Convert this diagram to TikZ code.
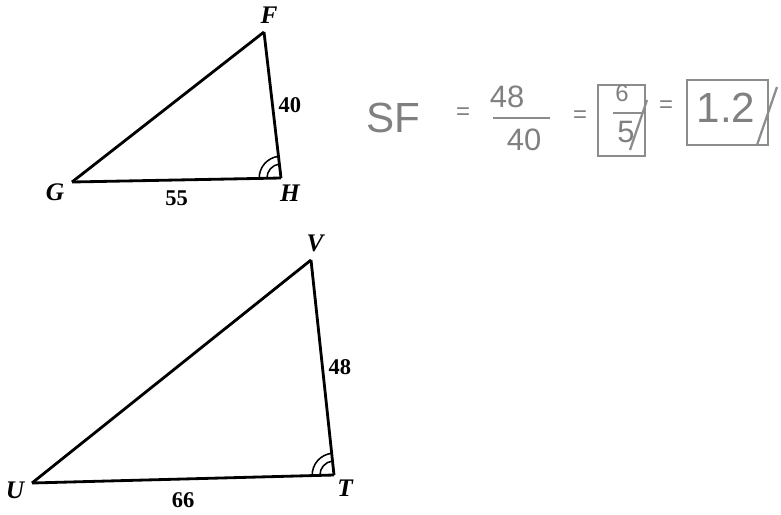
\documentclass[tikz,border=0pt]{standalone}
\usepackage{fontspec}
\setmainfont{Liberation Serif}
\newfontfamily\handfont{Liberation Sans}
\usetikzlibrary{angles,positioning}

\begin{document}
\begin{tikzpicture}[x=0.025cm,y=0.025cm,
	vlabel/.style={font=\fontsize{18}{18}\selectfont\bfseries\itshape},
	slabel/.style={font=\fontsize{16}{16}\selectfont\bfseries},
	edge/.style={line width=2pt,line join=miter},
	anglemark/.style={draw,line width=1.1pt},
	hand/.style={text=black!50,font=\handfont\fontsize{30}{30}\selectfont},
	handsmall/.style={text=black!50,font=\handfont\fontsize{22}{22}\selectfont},
	handtiny/.style={text=black!50,font=\handfont\fontsize{17}{17}\selectfont},
	handline/.style={draw=black!45,line width=1pt}]
	
	\useasboundingbox (0,0) rectangle (781,-514);
	
	% small triangle
	\coordinate (F) at (264,-32);
	\coordinate (G) at (72,-182);
	\coordinate (H) at (281,-178);
	\node[vlabel] (labF) at (269,-15) {F};
	\node[vlabel] (labG) at (55,-192) {G};
	\node[vlabel] (labH) at (290,-193) {H};
	
	\draw[edge] (G)-- (F);
	\draw[edge] (F)-- node[slabel,right]{40} (H);
	\draw[edge] (G)-- node[slabel,below=3pt]{55} (H);
	\pic[anglemark,angle radius=10pt] {angle=F--H--G};
	\pic[anglemark,angle radius=15.5pt] {angle=F--H--G};
	
	% large triangle
	\coordinate (V) at (311,-260);
	\coordinate (U) at (32,-483);
	\coordinate (T) at (334,-475);
	\node[vlabel] (labV) at (315,-243) {V};
	\node[vlabel] (labU) at (15,-490) {U};
	\node[vlabel] (labT) at (345,-488) {T};
	
	\draw[edge] (U)-- (V);
	\draw[edge] (V)-- node[slabel,right]{48} (T);
	\draw[edge] (U)-- node[slabel,below=5pt]{66} (T);
	\pic[anglemark,angle radius=10pt] {angle=V--T--U};
	\pic[anglemark,angle radius=15.5pt] {angle=V--T--U};
	
	% scale factor
	\node[hand] (sf) at (393,-118) {SF};
	\node[handtiny] (eq1) at (463,-114) {=};
	\node[handsmall] (num) at (507,-97) {48};
	\node[handsmall] (den) at (524,-140) {40};
	\draw[handline] (493,-118) -- (550,-118);
	\node[handtiny] (eq2) at (580,-117) {=};
	
	\draw[handline] (598,-85) rectangle (645,-156);
	\node[handtiny] (six) at (622,-93) {6};
	\draw[handline] (613,-113) -- (642,-113);
	\node[handsmall] (five) at (626,-132) {5};
	\draw[handline,line width=1.6pt] (647,-100) -- (630,-150);
	\node[handtiny] (eq3) at (666,-107) {=};
	
	\draw[handline] (687,-80) rectangle (768,-145);
	\node[hand] (res) at (726,-108) {1.2};
	\draw[handline,line width=1.6pt] (777,-87) -- (757,-145);
	
\end{tikzpicture}
\end{document}
